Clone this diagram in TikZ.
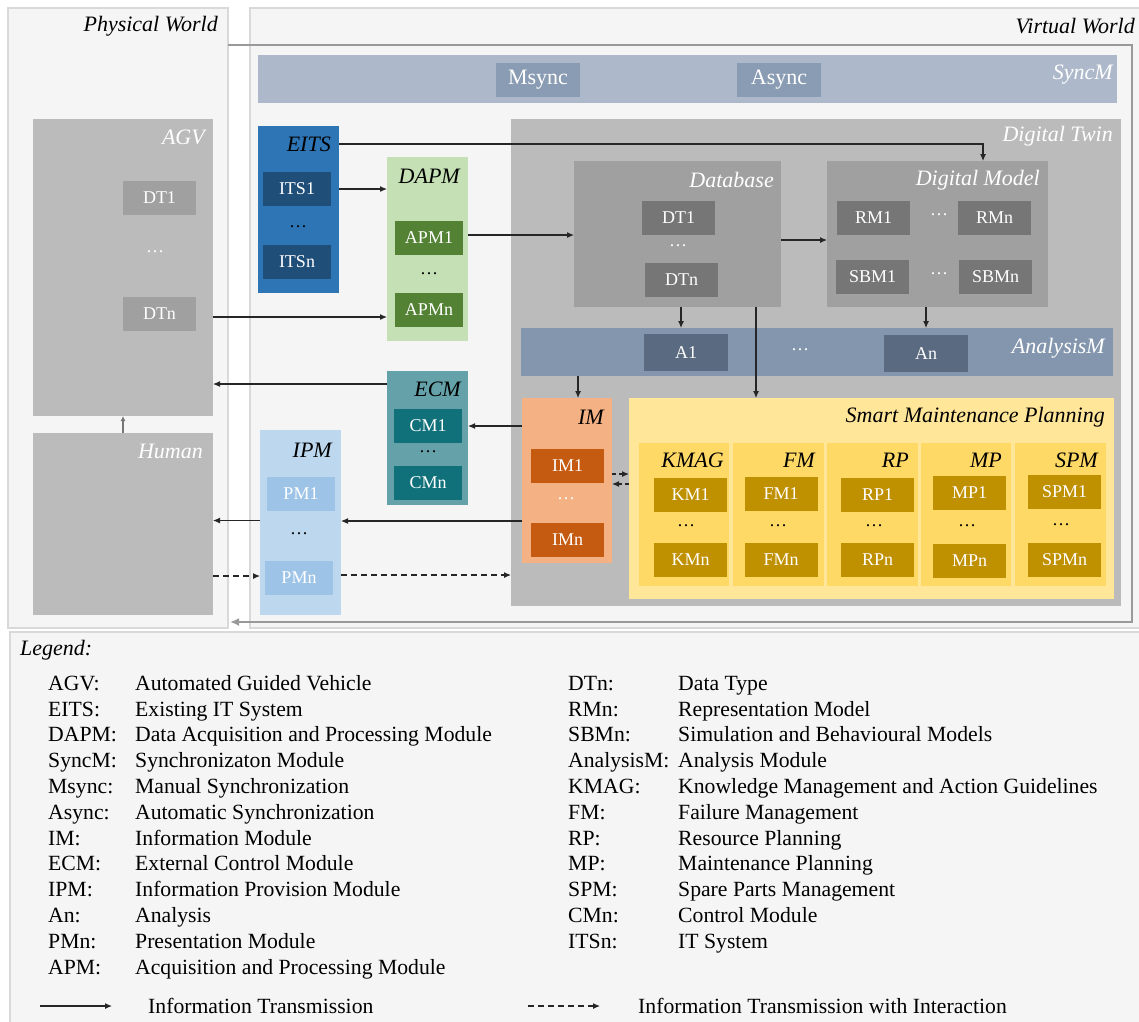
\documentclass[tikz,border=0pt]{standalone}
\usepackage{fontspec}
\setmainfont{Liberation Serif}
\usetikzlibrary{arrows.meta}

\definecolor{panelbg}{HTML}{F5F5F5}
\definecolor{panelline}{HTML}{D9D9D9}
\definecolor{framegray}{HTML}{999999}
\definecolor{grayblk}{HTML}{BBBBBB}
\definecolor{graymid}{HTML}{A0A0A0}
\definecolor{graydk}{HTML}{767676}
\definecolor{syncbg}{HTML}{ADB9CA}
\definecolor{syncbox}{HTML}{8A9CB4}
\definecolor{anabg}{HTML}{8496AE}
\definecolor{anabox}{HTML}{5A6A80}
\definecolor{eitsbg}{HTML}{2E75B6}
\definecolor{itsbox}{HTML}{1F4E79}
\definecolor{dapmbg}{HTML}{C5E0B4}
\definecolor{apmbox}{HTML}{548235}
\definecolor{ecmbg}{HTML}{64A1A8}
\definecolor{cmbox}{HTML}{10717A}
\definecolor{ipmbg}{HTML}{BDD7EE}
\definecolor{pmbox}{HTML}{9DC3E6}
\definecolor{imbg}{HTML}{F4B183}
\definecolor{imbox}{HTML}{C55A11}
\definecolor{smpbg}{HTML}{FFE699}
\definecolor{smpcol}{HTML}{FFD966}
\definecolor{smpbox}{HTML}{BF9000}

\newcommand{\bigfont}{\fontsize{22}{25}\selectfont}
\newcommand{\ttlfont}{\bigfont\itshape}
\newcommand{\boxfont}{\fontsize{18}{21}\selectfont}
\newcommand{\legfont}{\fontsize{21.7}{25.8}\selectfont}

\tikzset{
  blk/.style={rectangle, inner sep=0, outer sep=0},
  panel/.style={blk, draw=panelline, line width=1.2pt, fill=panelbg},
  ttl/.style={anchor=east, inner sep=0, font=\ttlfont},
  itm/.style={blk, minimum width=73pt, minimum height=34pt, text=white, font=\boxfont},
  dots/.style={inner sep=0, font=\boxfont},
  arr/.style={-{Latex[length=7pt,width=6pt]}, line width=1.1pt, draw=black!85},
  darr/.style={arr, dash pattern=on 6pt off 4pt}
}

\begin{document}
\begin{tikzpicture}[x=1pt,y=-1pt]
  \useasboundingbox (0,0) rectangle (1139,1021);

  % worlds and legend
  \node[panel, minimum width=220pt, minimum height=620pt] (phys) at (118,318) {};
  \node[panel, minimum width=895pt, minimum height=620pt] (virt) at (697.5,318) {};
  \node[panel, minimum width=1140pt, minimum height=400pt] (leg) at (580,832) {};
  \node[ttl] (physT) at (218,26) {Physical World};
  \node[ttl] (virtT) at (1135,26) {Virtual World};

  \coordinate (fra) at (228,45);
  \coordinate (frb) at (1132,622);
  \coordinate (frc) at (230,622);
  \draw[line width=2.5pt, draw=framegray, -{Latex[length=9pt,width=8pt]}] (fra) -| (frb) -- (frc);

  % SyncM
  \node[blk, fill=syncbg, minimum width=859pt, minimum height=48pt] (syncm) at (687.5,79) {};
  \node[ttl, text=white] (syncmT) at (1113,75) {SyncM};
  \node[blk, fill=syncbox, minimum width=84pt, minimum height=34pt, text=white, font=\bigfont] (msync) at (538,80) {Msync};
  \node[blk, fill=syncbox, minimum width=84pt, minimum height=34pt, text=white, font=\bigfont] (async) at (779,80) {Async};

  % physical world
  \node[blk, fill=grayblk, minimum width=180pt, minimum height=297pt] (agv) at (123,267.5) {};
  \node[ttl, text=white] (agvT) at (205,137) {AGV};
  \node[itm, fill=graymid] (dt1a) at (159.5,197.5) {DT1};
  \node[dots, text=white] (dotsa) at (155,252) {\ldots};
  \node[itm, fill=graymid] (dtna) at (159.5,313.5) {DTn};
  \node[blk, fill=grayblk, minimum width=180pt, minimum height=182pt] (human) at (123,524) {};
  \node[ttl, text=white] (humanT) at (203,451) {Human};
  \draw[line width=1.5pt, draw=graydk, -{Latex[length=5pt,width=5pt]}] (human.north) -- (agv.south);

  % EITS and DAPM
  \node[blk, fill=eitsbg, minimum width=81pt, minimum height=167pt] (eits) at (298.5,209.5) {};
  \node[ttl] (eitsT) at (331,144) {EITS};
  \node[itm, fill=itsbox, minimum width=68pt] (its1) at (297,189) {ITS1};
  \node[dots] (dotse) at (298,227) {\ldots};
  \node[itm, fill=itsbox, minimum width=68pt] (itsn) at (297,262) {ITSn};

  \node[blk, fill=dapmbg, minimum width=81pt, minimum height=184pt] (dapm) at (427.5,249) {};
  \node[ttl] (dapmT) at (460,176) {DAPM};
  \node[itm, fill=apmbox, minimum width=68pt] (apm1) at (429,238) {APM1};
  \node[dots] (dotsp) at (429,274) {\ldots};
  \node[itm, fill=apmbox, minimum width=68pt] (apmn) at (429,310) {APMn};

  % digital twin
  \node[blk, fill=grayblk, minimum width=610pt, minimum height=487pt] (dt) at (816,362.5) {};
  \node[ttl, text=white] (dtT) at (1113,136) {Digital Twin};
  \node[blk, fill=graymid, minimum width=207pt, minimum height=146pt] (db) at (677.5,234) {};
  \node[ttl, text=white] (dbT) at (774,180) {Database};
  \node[itm, fill=graydk] (dt1b) at (678.5,217.5) {DT1};
  \node[dots, text=white] (dotsb) at (678,246) {\ldots};
  \node[itm, fill=graydk] (dtnb) at (681.5,280) {DTn};
  \node[blk, fill=graymid, minimum width=221pt, minimum height=146pt] (dmod) at (937.5,234) {};
  \node[ttl, text=white] (dmodT) at (1040,180) {Digital Model};
  \node[itm, fill=graydk] (rm1) at (873.5,217.5) {RM1};
  \node[dots, text=white] (dotsr) at (939,215) {\ldots};
  \node[itm, fill=graydk] (rmn) at (994.5,217.5) {RMn};
  \node[itm, fill=graydk] (sbm1) at (872.5,276.5) {SBM1};
  \node[dots, text=white] (dotss) at (939,274) {\ldots};
  \node[itm, fill=graydk] (sbmn) at (995.5,276.5) {SBMn};

  \node[blk, fill=anabg, minimum width=592pt, minimum height=48pt] (ana) at (817,352) {};
  \node[ttl, text=white] (anaT) at (1105,348) {AnalysisM};
  \node[itm, fill=anabox, minimum width=84pt, minimum height=37pt] (a1) at (686,352.5) {A1};
  \node[dots, text=white] (dotsn) at (800,350) {\ldots};
  \node[itm, fill=anabox, minimum width=84pt, minimum height=37pt] (an) at (926,353.5) {An};

  % IM
  \node[blk, fill=imbg, minimum width=90pt, minimum height=165pt] (im) at (567,480.5) {};
  \node[ttl] (imT) at (604,417) {IM};
  \node[itm, fill=imbox] (im1) at (567.5,466) {IM1};
  \node[dots, text=white] (dotsi) at (566,499) {\ldots};
  \node[itm, fill=imbox] (imn) at (567.5,540) {IMn};

  % smart maintenance planning
  \node[blk, fill=smpbg, minimum width=485pt, minimum height=201pt] (smp) at (871.5,498.5) {};
  \node[ttl] (smpT) at (1105,417) {Smart Maintenance Planning};
  \node[blk, fill=smpcol, minimum width=90pt, minimum height=143pt] (kmag) at (684,514.5) {};
  \node[blk, fill=smpcol, minimum width=91pt, minimum height=143pt] (fm) at (778.5,514.5) {};
  \node[blk, fill=smpcol, minimum width=91pt, minimum height=143pt] (rp) at (872.5,514.5) {};
  \node[blk, fill=smpcol, minimum width=90pt, minimum height=143pt] (mp) at (966,514.5) {};
  \node[blk, fill=smpcol, minimum width=91pt, minimum height=143pt] (spm) at (1060.5,514.5) {};
  \node[ttl] (kmagT) at (724,460) {KMAG};
  \node[ttl] (fmT) at (815,460) {FM};
  \node[ttl] (rpT) at (909,460) {RP};
  \node[ttl] (mpT) at (1002,460) {MP};
  \node[ttl] (spmT) at (1098,460) {SPM};
  \node[itm, fill=smpbox] (km1) at (690.5,495) {KM1};
  \node[dots] (dotsk) at (686,526) {\ldots};
  \node[itm, fill=smpbox] (kmn) at (690.5,560) {KMn};
  \node[itm, fill=smpbox] (fm1) at (781,494) {FM1};
  \node[dots] (dotsf) at (778,526) {\ldots};
  \node[itm, fill=smpbox] (fmn) at (781,560) {FMn};
  \node[itm, fill=smpbox] (rp1) at (877.5,495) {RP1};
  \node[dots] (dotsq) at (874,526) {\ldots};
  \node[itm, fill=smpbox] (rpn) at (877.5,560) {RPn};
  \node[itm, fill=smpbox] (mp1) at (969.5,493) {MP1};
  \node[dots] (dotsm) at (967,526) {\ldots};
  \node[itm, fill=smpbox] (mpn) at (969.5,561) {MPn};
  \node[itm, fill=smpbox] (spm1) at (1064.5,492) {SPM1};
  \node[dots] (dotsz) at (1061,525) {\ldots};
  \node[itm, fill=smpbox] (spmn) at (1064.5,560) {SPMn};

  % ECM and IPM
  \node[blk, fill=ecmbg, minimum width=81pt, minimum height=134pt] (ecm) at (427.5,438) {};
  \node[ttl] (ecmT) at (461,389) {ECM};
  \node[itm, fill=cmbox, minimum width=68pt] (cm1) at (428,426) {CM1};
  \node[dots] (dotsc) at (428,452) {\ldots};
  \node[itm, fill=cmbox, minimum width=68pt] (cmn) at (428,483) {CMn};

  \node[blk, fill=ipmbg, minimum width=81pt, minimum height=185pt] (ipm) at (300.5,522.5) {};
  \node[ttl] (ipmT) at (332,450) {IPM};
  \node[itm, fill=pmbox, minimum width=68pt] (pm1) at (301,494) {PM1};
  \node[dots] (dotsm2) at (299,534) {\ldots};
  \node[itm, fill=pmbox, minimum width=68pt] (pmn) at (299,578) {PMn};

  % connectors
  \draw[arr] (eits.east |- eitsT) -| ([xshift=45.5pt]dmod.north);
  \draw[arr] (eits.east |- its1) -- (dapm.west |- its1);
  \draw[arr] ([yshift=-3.5pt]agv.east |- dtna) -- ([yshift=-3.5pt]dapm.west |- dtna);
  \draw[arr] ([yshift=3pt]dapm.east |- apm1) -- ([yshift=3pt]db.west |- apm1);
  \draw[arr] ([yshift=-6pt]db.east) -- ([yshift=-6pt]dmod.west);
  \draw[arr] ([xshift=3.5pt]db.south) -- ([xshift=3.5pt]db.south |- ana.north);
  \draw[arr] (an |- dmod.south) -- (an |- ana.north);
  \draw[arr] ([xshift=78.5pt]db.south) -- ([xshift=78.5pt]db.south |- smp.north);
  \draw[arr] ([xshift=11pt]im.north |- ana.south) -- ([xshift=11pt]im.north);
  \draw[arr] (im.west |- cm1) -- (ecm.east |- cm1);
  \draw[arr] ([yshift=54pt]ecm.west) -- ([yshift=54pt]agv.east |- ecm.west);
  \draw[arr] ([yshift=-40.5pt]im.west) -- ([yshift=-40.5pt]im.west -| ipm.east);
  \draw[arr] ([yshift=2pt]ipm.west) -- ([yshift=2pt]human.east |- ipm.west);
  \draw[darr] ([yshift=2pt]human.east |- pmn) -- ([yshift=2pt]ipm.west |- pmn);
  \draw[darr] ([yshift=3pt]ipm.east |- pmn) -- ([yshift=3pt]dt.west |- pmn);
  \draw[darr, dash pattern=on 4pt off 3pt] ([yshift=6.5pt]im.east) -- ([yshift=6.5pt]im.east -| smp.west);
  \draw[darr, dash pattern=on 4pt off 3pt] ([yshift=-3.5pt]im.east -| smp.west) -- ([yshift=-3.5pt]im.east);

  % legend
  \node[inner sep=0, anchor=west, font=\ttlfont] (legT) at (20,650) {Legend:};
  \node[inner sep=0, anchor=north west, font=\legfont] (legL) at (48,672) {%
    \begin{tabular}{@{}p{87pt}@{}l@{}}
      AGV: & Automated Guided Vehicle\\
      EITS: & Existing IT System\\
      DAPM: & Data Acquisition and Processing Module\\
      SyncM: & Synchronizaton Module\\
      Msync: & Manual Synchronization\\
      Async: & Automatic Synchronization\\
      IM: & Information Module\\
      ECM: & External Control Module\\
      IPM: & Information Provision Module\\
      An: & Analysis\\
      PMn: & Presentation Module\\
      APM: & Acquisition and Processing Module
    \end{tabular}};
  \node[inner sep=0, anchor=north west, font=\legfont] (legR) at (568,672) {%
    \begin{tabular}{@{}p{110pt}@{}l@{}}
      DTn: & Data Type\\
      RMn: & Representation Model\\
      SBMn: & Simulation and Behavioural Models\\
      AnalysisM: & Analysis Module\\
      KMAG: & Knowledge Management and Action Guidelines\\
      FM: & Failure Management\\
      RP: & Resource Planning\\
      MP: & Maintenance Planning\\
      SPM: & Spare Parts Management\\
      CMn: & Control Module\\
      ITSn: & IT System
    \end{tabular}};

  \coordinate (la) at (40,1006);
  \coordinate (lb) at (112,1006);
  \coordinate (lc) at (528,1006);
  \coordinate (ld) at (600,1006);
  \draw[arr] (la) -- (lb);
  \draw[darr] (lc) -- (ld);
  \node[inner sep=0, anchor=west, font=\legfont] (lsolid) at (148,1006) {Information Transmission};
  \node[inner sep=0, anchor=west, font=\legfont] (ldash) at (638,1006) {Information Transmission with Interaction};
\end{tikzpicture}
\end{document}
